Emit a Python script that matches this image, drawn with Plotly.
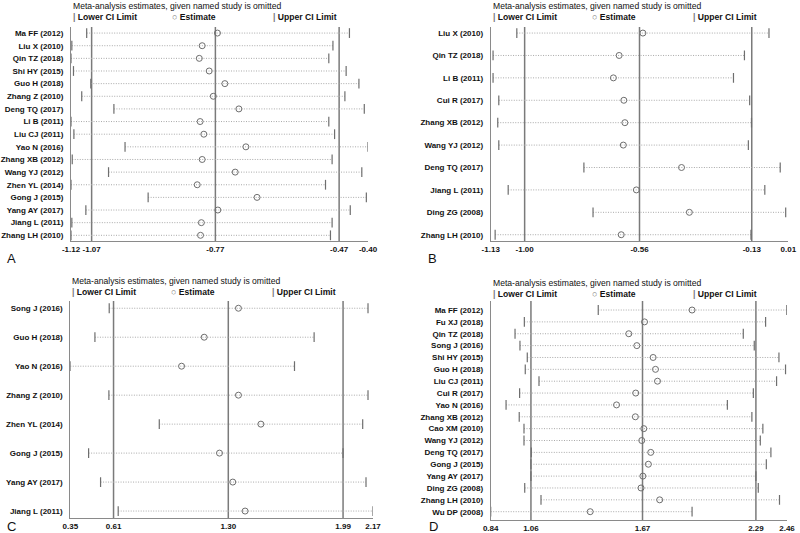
import plotly.graph_objects as go

# ---------------- Panel A ----------------
a_studies = ["Ma FF (2012)", "Liu X (2010)", "Qin TZ (2018)", "Shi HY (2015)", "Guo H (2018)",
             "Zhang Z (2010)", "Deng TQ (2017)", "Li B (2011)", "Liu CJ (2011)", "Yao N (2016)",
             "Zhang XB (2012)", "Wang YJ (2012)", "Zhen YL (2014)", "Gong J (2015)",
             "Yang AY (2017)", "Jiang L (2011)", "Zhang LH (2010)"]
a_lower = [-1.082, -1.118, -1.120, -1.114, -1.072, -1.094, -1.016, -1.120, -1.113, -0.989,
           -1.117, -1.029, -1.120, -0.933, -1.084, -1.118, -1.120]
a_est = [-0.765, -0.802, -0.809, -0.785, -0.747, -0.775, -0.713, -0.807, -0.798, -0.696,
         -0.802, -0.722, -0.814, -0.669, -0.764, -0.804, -0.806]
a_upper = [-0.445, -0.485, -0.495, -0.453, -0.422, -0.456, -0.409, -0.495, -0.481, -0.400,
           -0.487, -0.415, -0.503, -0.404, -0.443, -0.487, -0.491]
a_ref = [-1.07, -0.77, -0.47]
a_ticks = [-1.12, -1.07, -0.77, -0.47, -0.40]

# ---------------- Panel B ----------------
b_studies = ["Liu X (2010)", "Qin TZ (2018)", "Li B (2011)", "Cui R (2017)", "Zhang XB (2012)",
             "Wang YJ (2012)", "Deng TQ (2017)", "Jiang L (2011)", "Ding ZG (2008)", "Zhang LH (2010)"]
b_lower = [-1.030, -1.121, -1.121, -1.099, -1.103, -1.099, -0.773, -1.063, -0.738, -1.113]
b_est = [-0.547, -0.638, -0.660, -0.620, -0.616, -0.622, -0.399, -0.572, -0.369, -0.630]
b_upper = [-0.064, -0.158, -0.200, -0.138, -0.131, -0.143, -0.021, -0.080, 0.000, -0.133]
b_ref = [-1.00, -0.56, -0.13]
b_ticks = [-1.13, -1.00, -0.56, -0.13, 0.01]

# ---------------- Panel C ----------------
c_studies = ["Song J (2016)", "Guo H (2018)", "Yao N (2016)", "Zhang Z (2010)",
             "Zhen YL (2014)", "Gong J (2015)", "Yang AY (2017)", "Jiang L (2011)"]
c_lower = [0.584, 0.498, 0.350, 0.582, 0.885, 0.460, 0.532, 0.638]
c_est = [1.361, 1.155, 1.019, 1.361, 1.496, 1.247, 1.327, 1.401]
c_upper = [2.140, 1.816, 1.698, 2.140, 2.108, 1.990, 2.128, 2.170]
c_ref = [0.61, 1.30, 1.99]
c_ticks = [0.35, 0.61, 1.30, 1.99, 2.17]

# ---------------- Panel D ----------------
d_studies = ["Ma FF (2012)", "Fu XJ (2018)", "Qin TZ (2018)", "Song J (2016)", "Shi HY (2015)",
             "Guo H (2018)", "Liu CJ (2011)", "Cui R (2017)", "Yao N (2016)", "Zhang XB (2012)",
             "Cao XM (2010)", "Wang YJ (2012)", "Deng TQ (2017)", "Gong J (2015)",
             "Yang AY (2017)", "Ding ZG (2008)", "Zhang LH (2010)", "Wu DP (2008)"]
d_lower = [1.428, 1.024, 0.973, 1.000, 1.040, 1.029, 1.104, 0.998, 0.924, 0.996,
           1.022, 1.022, 1.062, 1.060, 1.060, 1.026, 1.115, 0.840]
d_est = [1.941, 1.681, 1.595, 1.639, 1.728, 1.741, 1.752, 1.633, 1.528, 1.631,
         1.677, 1.666, 1.715, 1.702, 1.672, 1.662, 1.764, 1.384]
d_upper = [2.459, 2.343, 2.221, 2.281, 2.416, 2.452, 2.403, 2.276, 2.134, 2.268,
           2.328, 2.314, 2.372, 2.347, 2.290, 2.303, 2.419, 1.941]
d_ref = [1.06, 1.67, 2.29]
d_ticks = [0.84, 1.06, 1.67, 2.29, 2.46]

panel_letters = ["A", "B", "C", "D"]
title_text = "Meta-analysis estimates, given named study is omitted"

W, H = 800, 533
FONT = "Liberation Sans, Arial, sans-serif"
TXT = "#111111"
GRAY = "#7a7a7a"
MARK = "#6e6e6e"

# layout geometry in pixels (left, right, top, bottom) and y index range
panels = [
    dict(data=(a_studies, a_lower, a_est, a_upper, a_ref, a_ticks), box=(71, 368, 27, 241),
         yr=(16.45, -0.48), title_y=6, leg_y=17, letter=(5, 258)),
    dict(data=(b_studies, b_lower, b_est, b_upper, b_ref, b_ticks), box=(490.7, 788.3, 27, 241),
         yr=(9.28, -0.27), title_y=6, leg_y=17, letter=(426, 258)),
    dict(data=(c_studies, c_lower, c_est, c_upper, c_ref, c_ticks), box=(70.3, 373, 301, 518),
         yr=(7.24, -0.25), title_y=281, leg_y=292, letter=(5, 526)),
    dict(data=(d_studies, d_lower, d_est, d_upper, d_ref, d_ticks), box=(490.7, 787, 301, 520),
         yr=(17.70, -0.76), title_y=283, leg_y=294, letter=(427, 526)),
]

fig = go.Figure()
shapes = []
annotations = []
layout_axes = {}

for k, p in enumerate(panels):
    studies, lo, est, up, ref, ticks = p["data"]
    ax = "" if k == 0 else str(k + 1)
    xref, yref = "x" + ax, "y" + ax
    L, R, T, B = p["box"]

    # dotted CI lines
    xs, ys = [], []
    for s, l, u in zip(studies, lo, up):
        xs += [l, u, None]
        ys += [s, s, None]
    fig.add_trace(go.Scatter(x=xs, y=ys, mode="lines", xaxis=xref, yaxis=yref,
                             line=dict(color="#a9a9a9", width=1, dash="1px,1.5px"),
                             showlegend=False, hoverinfo="skip"))
    # CI limit markers
    for vals in (lo, up):
        fig.add_trace(go.Scatter(x=vals, y=studies, mode="markers", xaxis=xref, yaxis=yref,
                                 marker=dict(symbol="line-ns", size=7, color=MARK,
                                             line=dict(color=MARK, width=1.2)),
                                 showlegend=False))
    # estimate
    fig.add_trace(go.Scatter(x=est, y=studies, mode="markers", xaxis=xref, yaxis=yref,
                             marker=dict(symbol="circle-open", size=6, color=MARK,
                                         line=dict(color=MARK, width=1)),
                             showlegend=False))
    # reference vertical lines
    for r in ref:
        shapes.append(dict(type="line", xref=xref, yref=yref + " domain", x0=r, x1=r, y0=0, y1=1,
                           line=dict(color=GRAY, width=1.5), layer="below"))

    layout_axes["xaxis" + ax] = dict(
        domain=[L / W, R / W], range=[ticks[0], ticks[-1]], anchor=yref,
        tickvals=ticks, ticktext=["%.2f" % t for t in ticks], tickangle=0, automargin=False,
        showline=True, linecolor="#8a8a8a", linewidth=1, mirror=False,
        ticks="", ticklabelstandoff=0, showgrid=False, zeroline=False,
        tickfont=dict(family=FONT, size=8, color=TXT, weight="bold"))
    layout_axes["yaxis" + ax] = dict(
        domain=[1 - B / H, 1 - T / H], range=list(p["yr"]), anchor=xref, automargin=False,
        type="category", categoryorder="array", categoryarray=studies,
        showline=True, linecolor="#8a8a8a", linewidth=1, ticks="", showgrid=False,
        zeroline=False, ticklabelstandoff=5,
        tickfont=dict(family=FONT, size=8, color=TXT, weight="bold"))

    # title and legend as text
    annotations.append(dict(x=L / W, y=1 - p["title_y"] / H, xref="paper", yref="paper",
                            xanchor="left", yanchor="middle", showarrow=False, text=title_text,
                            font=dict(family=FONT, size=8.6, color=TXT)))
    leg_items = [("<span style='color:#777'>|</span> Lower CI Limit", 0),
                 ("<span style='color:#777;font-size:9px'>○</span> Estimate", 99),
                 ("<span style='color:#777'>|</span> Upper CI Limit", 200)]
    for txt, dx in leg_items:
        annotations.append(dict(x=(L + dx) / W, y=1 - p["leg_y"] / H, xref="paper", yref="paper",
                                xanchor="left", yanchor="middle", showarrow=False, text=txt,
                                font=dict(family=FONT, size=8.6, color=TXT, weight="bold")))
    lx, ly = p["letter"]
    annotations.append(dict(x=lx / W, y=1 - ly / H, xref="paper", yref="paper",
                            xanchor="left", yanchor="middle", showarrow=False,
                            text=panel_letters[k], font=dict(family=FONT, size=13, color=TXT)))

fig.update_layout(
    width=W, height=H, margin=dict(l=0, r=0, t=0, b=0, pad=0),
    paper_bgcolor="white", plot_bgcolor="white",
    shapes=shapes, annotations=annotations, showlegend=False,
    **layout_axes)

fig.write_html("out.html", config={"displayModeBar": False},
               post_script="document.body.style.margin='0';document.body.style.overflow='hidden';")
